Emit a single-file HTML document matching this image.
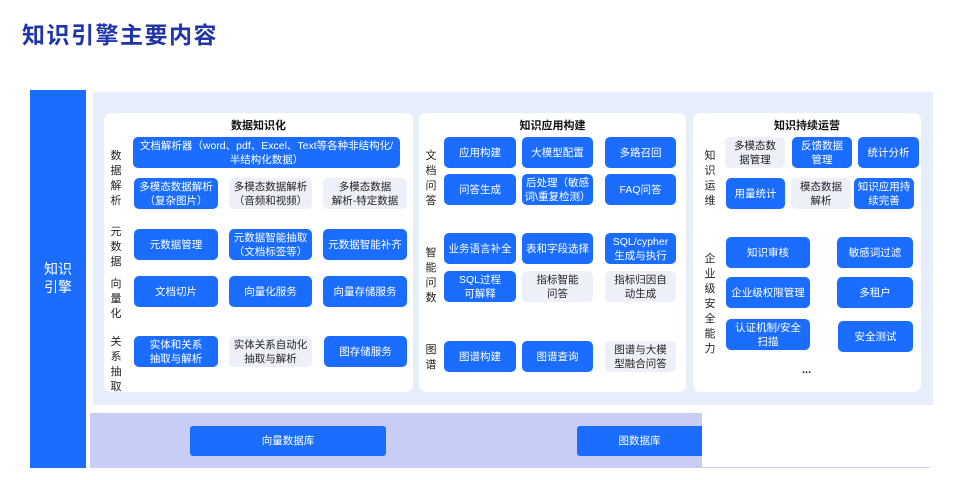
<!DOCTYPE html>
<html><head><meta charset="utf-8"><style>
*{margin:0;padding:0;box-sizing:border-box}
body{width:972px;height:480px;background:#fff;position:relative;overflow:hidden;font-family:"Liberation Sans","Noto Sans CJK SC",sans-serif}
.a{position:absolute}
.b{position:absolute;background:#1a6dff;color:#fff;border-radius:5px;display:flex;align-items:center;justify-content:center;text-align:center;font-size:10.5px;line-height:14px}
.l{background:#eef0f9;color:#222}
.p{position:absolute;background:#fff;border-radius:7px}
.t{position:absolute;font-size:11px;font-weight:bold;color:#111;text-align:center}
.v{position:absolute;font-size:11px;line-height:15px;color:#222;width:14px;text-align:center}
</style></head><body>
<div class="a" style="left:22px;top:16px;font-size:23px;font-weight:bold;color:#1f35a8;letter-spacing:1.5px">知识引擎主要内容</div>
<div class="a" style="left:30px;top:90px;width:56px;height:378px;background:#1a6dff"></div>
<div class="a" style="left:30px;top:260px;width:56px;text-align:center;color:#fff;font-size:14px;line-height:18px">知识<br>引擎</div>
<div class="a" style="left:93px;top:92px;width:840px;height:313px;background:#e6eefb"></div>
<div class="a" style="left:90px;top:413px;width:612px;height:55px;background:#c8cdf5"></div>
<div class="a" style="left:702px;top:467px;width:228px;height:1px;background:#c8cdf5"></div>
<div class="b" style="left:190px;top:426px;width:196px;height:30px;border-radius:3px">向量数据库</div>
<div class="b" style="left:577px;top:426px;width:125px;height:30px;border-radius:3px 0 0 3px">图数据库</div>

<!-- panel 1 -->
<div class="p" style="left:104px;top:113px;width:309px;height:279px"></div>
<div class="t" style="left:104px;top:117px;width:309px">数据知识化</div>
<div class="v" style="left:109px;top:149px">数据解析</div>
<div class="v" style="left:109px;top:225px">元数据</div>
<div class="v" style="left:109px;top:277px">向量化</div>
<div class="v" style="left:109px;top:335px">关系抽取</div>
<div class="b" style="left:133px;top:137px;width:267px;height:31px">文档解析器（word、pdf、Excel、Text等各种非结构化/<br>半结构化数据）</div>
<div class="b" style="left:134px;top:178px;width:84px;height:31px">多模态数据解析<br>（复杂图片）</div>
<div class="b l" style="left:229px;top:178px;width:83px;height:31px">多模态数据解析<br>（音频和视频）</div>
<div class="b l" style="left:323px;top:178px;width:84px;height:31px">多模态数据<br>解析-特定数据</div>
<div class="b" style="left:134px;top:229px;width:84px;height:31px">元数据管理</div>
<div class="b" style="left:229px;top:229px;width:83px;height:31px">元数据智能抽取<br>（文档标签等）</div>
<div class="b" style="left:323px;top:229px;width:84px;height:31px">元数据智能补齐</div>
<div class="b" style="left:134px;top:276px;width:84px;height:31px">文档切片</div>
<div class="b" style="left:229px;top:276px;width:83px;height:31px">向量化服务</div>
<div class="b" style="left:323px;top:276px;width:84px;height:31px">向量存储服务</div>
<div class="b" style="left:134px;top:336px;width:84px;height:31px">实体和关系<br>抽取与解析</div>
<div class="b l" style="left:229px;top:336px;width:83px;height:31px">实体关系自动化<br>抽取与解析</div>
<div class="b" style="left:324px;top:336px;width:83px;height:31px">图存储服务</div>

<!-- panel 2 -->
<div class="p" style="left:419px;top:113px;width:267px;height:279px"></div>
<div class="t" style="left:419px;top:117px;width:267px">知识应用构建</div>
<div class="v" style="left:424px;top:149px">文档问答</div>
<div class="v" style="left:424px;top:246px">智能问数</div>
<div class="v" style="left:424px;top:343px">图谱</div>
<div class="b" style="left:444px;top:137px;width:72px;height:31px">应用构建</div>
<div class="b" style="left:522px;top:137px;width:71px;height:31px">大模型配置</div>
<div class="b" style="left:605px;top:137px;width:71px;height:31px">多路召回</div>
<div class="b" style="left:444px;top:174px;width:72px;height:31px">问答生成</div>
<div class="b" style="left:522px;top:174px;width:71px;height:31px">后处理（敏感<br>词\重复检测）</div>
<div class="b" style="left:605px;top:174px;width:71px;height:31px">FAQ问答</div>
<div class="b" style="left:444px;top:233px;width:72px;height:31px">业务语言补全</div>
<div class="b" style="left:522px;top:233px;width:71px;height:31px">表和字段选择</div>
<div class="b" style="left:605px;top:233px;width:71px;height:31px">SQL/cypher<br>生成与执行</div>
<div class="b" style="left:444px;top:271px;width:72px;height:31px">SQL过程<br>可解释</div>
<div class="b l" style="left:522px;top:271px;width:71px;height:31px">指标智能<br>问答</div>
<div class="b l" style="left:605px;top:271px;width:71px;height:31px">指标归因自<br>动生成</div>
<div class="b" style="left:444px;top:341px;width:72px;height:31px">图谱构建</div>
<div class="b" style="left:522px;top:341px;width:71px;height:31px">图谱查询</div>
<div class="b l" style="left:605px;top:341px;width:71px;height:31px">图谱与大模<br>型融合问答</div>

<!-- panel 3 -->
<div class="p" style="left:693px;top:113px;width:228px;height:279px"></div>
<div class="t" style="left:693px;top:117px;width:228px">知识持续运营</div>
<div class="v" style="left:703px;top:149px">知识运维</div>
<div class="v" style="left:703px;top:252px">企业级安全能力</div>
<div class="b l" style="left:725px;top:137px;width:60px;height:31px">多模态数<br>据管理</div>
<div class="b" style="left:792px;top:137px;width:60px;height:31px">反馈数据<br>管理</div>
<div class="b" style="left:858px;top:137px;width:61px;height:31px">统计分析</div>
<div class="b" style="left:726px;top:178px;width:59px;height:31px">用量统计</div>
<div class="b l" style="left:791px;top:178px;width:60px;height:31px">模态数据<br>解析</div>
<div class="b" style="left:854px;top:178px;width:60px;height:31px">知识应用持<br>续完善</div>
<div class="b" style="left:726px;top:237px;width:84px;height:31px">知识审核</div>
<div class="b" style="left:837px;top:237px;width:76px;height:31px">敏感词过滤</div>
<div class="b" style="left:726px;top:277px;width:84px;height:31px">企业级权限管理</div>
<div class="b" style="left:837px;top:277px;width:76px;height:31px">多租户</div>
<div class="b" style="left:726px;top:319px;width:84px;height:31px">认证机制/安全<br>扫描</div>
<div class="b" style="left:838px;top:321px;width:75px;height:31px">安全测试</div>
<div class="a" style="left:802px;top:364px;font-size:11px;font-weight:bold;color:#222">...</div>
</body></html>
